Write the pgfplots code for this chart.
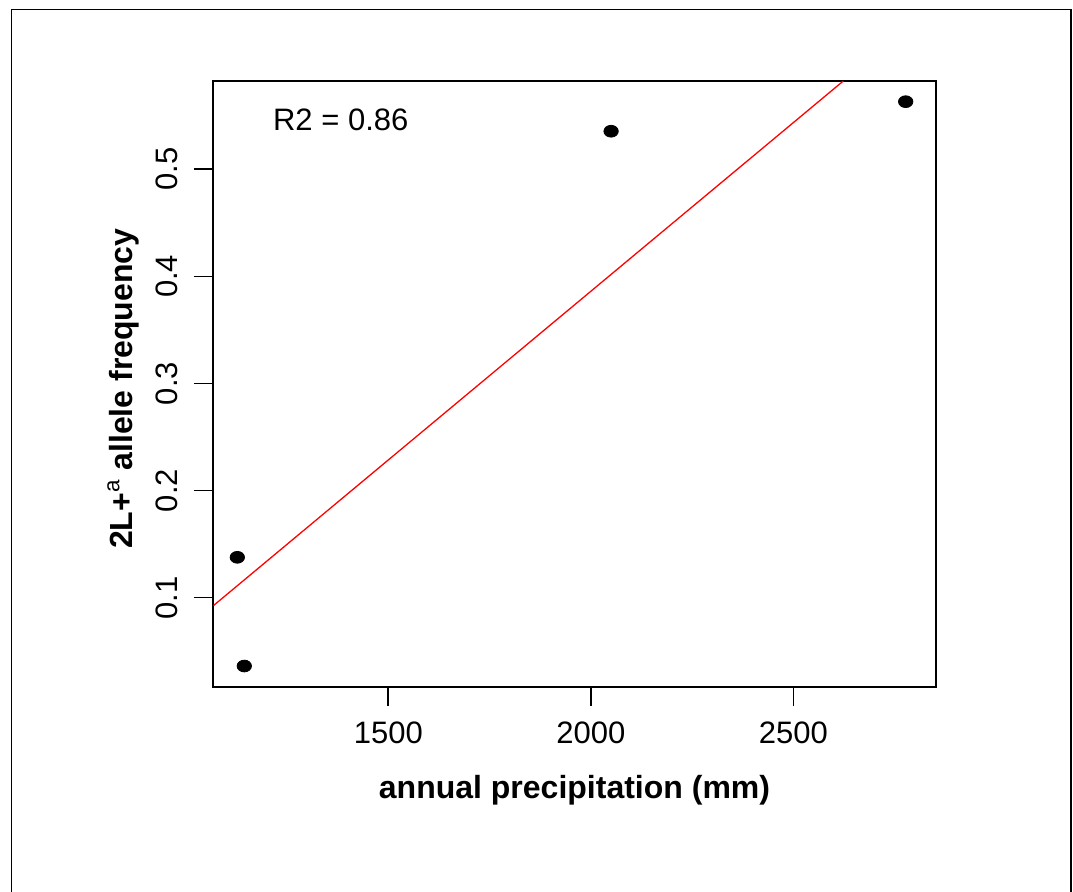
\documentclass[border=0pt]{standalone}
\usepackage{fontspec}
\setmainfont{Liberation Sans}
\usepackage{pgfplots}
\pgfplotsset{compat=1.18}
\begin{document}
\begin{tikzpicture}
\useasboundingbox (0,0) rectangle (536.5pt,-446pt);
\draw[line width=0.6pt] (5.85pt,-450pt) -- (5.85pt,-4.65pt) -- (535.5pt,-4.65pt) -- (535.5pt,-450pt);
\begin{axis}[
 at={(106.65pt,-343.35pt)}, anchor=south west,
 scale only axis, width=361.2pt, height=302.85pt,
 xmin=1067.9, xmax=2851.6, ymin=0.0169, ymax=0.5824,
 xtick={1500,2000,2500}, ytick={0.1,0.2,0.3,0.4,0.5},
 tick align=outside, xtick pos=bottom, ytick pos=left,
 major tick length=9.5pt,
 axis line style={line width=0.85pt},
 every tick/.style={black, line width=0.8pt},
 /pgf/number format/assume math mode=true,
 /pgf/number format/1000 sep={},
 xticklabel style={font=\fontsize{15.5}{18}\selectfont, anchor=north, inner sep=0pt},
 yticklabel style={font=\fontsize{15.5}{18}\selectfont, rotate=90, anchor=south, inner sep=0pt},
 xticklabel shift=8pt, yticklabel shift=8pt,
 xlabel={annual precipitation (mm)},
 ylabel={2L+\textsuperscript{\mdseries a} allele frequency},
 every axis x label/.style={at={(axis description cs:0.5,-0.1838)}, anchor=base, font=\fontsize{16}{19}\selectfont\bfseries},
 every axis y label/.style={at={(axis description cs:-0.1125,0.492)}, rotate=90, anchor=base, font=\fontsize{16}{19}\selectfont\bfseries},
]
\addplot[only marks, mark=*, mark size=2.95pt, mark options={xscale=1.22, fill=black, draw=black}] coordinates {(1127.2,0.1377) (1144.4,0.0362) (2050.1,0.5355) (2777.5,0.5631)};
\addplot[red, line width=0.65pt] coordinates {(1067.9,0.0925) (2623.5,0.5824)};
\node[anchor=base west, inner sep=0pt, font=\fontsize{15.5}{18}\selectfont] at (axis cs:1214.6,0.536) {R2 = 0.86};
\end{axis}
\end{tikzpicture}
\end{document}
